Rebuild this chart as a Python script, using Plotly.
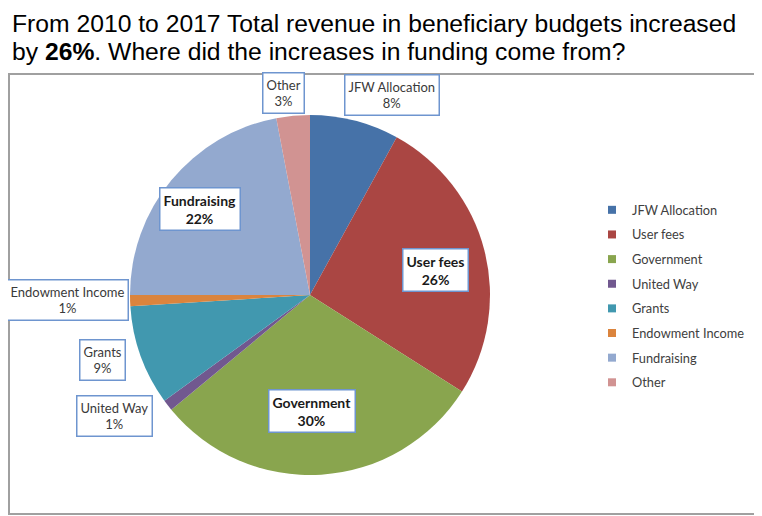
import math
import plotly.graph_objects as go

# data
sources = ["JFW Allocation", "User fees", "Government", "United Way",
           "Grants", "Endowment Income", "Fundraising", "Other"]
shares = [8, 26, 30, 1, 9, 1, 22, 3]
colors = ["#4672A8", "#AA4643", "#89A54E", "#71588F",
          "#4198AF", "#DB843D", "#93A9CF", "#D19392"]
title_lines = ["From 2010 to 2017 Total revenue in beneficiary budgets increased",
               "by <b>26%</b>. Where did the increases in funding come from?"]

# label placement: (radius factor, angle nudge in degrees, bold)
label_style = [(1.20, 8, False), (0.71, 3, True), (0.645, 2.5, True), (1.28, 6, False),
               (1.21, 2.5, False), (1.345, 0.5, False), (0.776, -1.5, True), (1.13, -2, False)]

# page body has an 8px margin, so the figure is drawn 8px in from the window corner
OFF = 8
W, H = 762 - OFF, 516 - OFF
cx, cy, R = 310, 295, 180   # window pixels


def px(x):
    return (x - OFF) / W


def py(y):
    return 1 - (y - OFF) / H


fig = go.Figure()
fig.add_trace(go.Pie(
    labels=sources, values=shares, sort=False, direction="clockwise",
    marker=dict(colors=colors, line=dict(width=0)),
    textinfo="none", showlegend=False, hoverinfo="label+percent",
    domain=dict(x=[px(cx - R), px(cx + R)], y=[py(cy + R), py(cy - R)]),
))

# legend entries
for name, col in zip(sources, colors):
    fig.add_trace(go.Scatter(
        x=[None], y=[None], mode="markers", name=name, legendgroup=name,
        marker=dict(symbol="square", size=8, color=col),
    ))

annotations = []
for i, line in enumerate(title_lines):
    annotations.append(dict(
        text=line, x=px(10), y=py(24 + 28 * i), xref="paper", yref="paper",
        xanchor="left", yanchor="middle", showarrow=False,
        font=dict(family="Liberation Sans, Arial", size=24.7, color="#000000"),
    ))

total = float(sum(shares))
cum = 0.0
for name, val, (k, nudge, bold) in zip(sources, shares, label_style):
    mid = (cum + val / 2) / total * 360 + nudge
    cum += val
    lx = cx + k * R * math.sin(math.radians(mid))
    ly = cy - k * R * math.cos(math.radians(mid))
    pct = "%d%%" % round(val / total * 100)
    if bold:
        txt = "<b>%s</b><br><b>%s</b>" % (name, pct)
        fnt = dict(family="Lato", size=14, color="#1a1a1a")
    else:
        txt = "%s<br>%s" % (name, pct)
        fnt = dict(family="Lato", size=13, color="#3a3a3a")
    annotations.append(dict(
        text=txt, x=px(lx), y=py(ly), xref="paper", yref="paper",
        xanchor="center", yanchor="middle",
        showarrow=False, align="center", font=fnt,
        bgcolor="#ffffff", bordercolor="#6E95CF", borderwidth=1.5, borderpad=3,
    ))

fig.update_layout(
    width=W, height=H,
    margin=dict(l=0, r=0, t=0, b=0),
    paper_bgcolor="#ffffff", plot_bgcolor="rgba(0,0,0,0)",
    font=dict(family="Lato", color="#404040"),
    xaxis=dict(visible=False), yaxis=dict(visible=False),
    legend=dict(x=px(592), y=py(195), xanchor="left", yanchor="top",
                traceorder="grouped", tracegroupgap=5,
                font=dict(family="Lato", size=12.8, color="#404040"),
                bgcolor="rgba(0,0,0,0)"),
    annotations=annotations,
    shapes=[dict(type="rect", xref="paper", yref="paper",
                 x0=px(9), x1=px(757), y0=py(514), y1=py(74),
                 line=dict(color="#A0A0A0", width=2), layer="above")],
)

fig.write_html("out.html")
